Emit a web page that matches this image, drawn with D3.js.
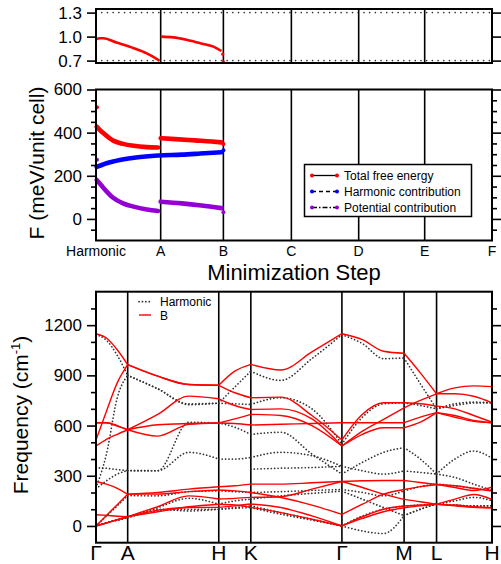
<!DOCTYPE html>
<html><head><meta charset="utf-8">
<script src="https://cdn.jsdelivr.net/npm/d3@7"></script>
<style>body{margin:0;background:#fff} text{font-family:"Liberation Sans",Arial,Helvetica,sans-serif;fill:#000}</style>
</head><body><svg id="c" width="501" height="564"></svg>
<script>
// ---------- DATA ----------
const steps = ["Harmonic","A","B","C","D","E","F"];
const stepPos = [0, 98, 193, 296, 398, 498, 600];      // iteration count of each step
const ratioSeg1 = [[0,0.967],[6,0.98],[11,0.98],[31,0.925],[57,0.855],[77,0.79],[96,0.70]];
const ratioSeg2 = [[98,1.0],[117,0.99],[137,0.96],[158,0.917],[178,0.875],[190,0.82]];
const ratioPts = [[192,0.78],[193,0.685]];
const topTicks = [0.7, 1.0, 1.3];

const totalSeg1 = [[1,428],[6,412],[11,398],[26,363],[41,348],[57,339],[77,333],[94,331]];
const totalSeg2 = [[98,374],[120,370],[150,364],[175,359],[190,355]];
const totalPts = [[0,518],[193,347]];
const harmSeg = [[1,241],[16,258],[36,273],[67,287],[94,294],[130,298],[158,303],[190,309]];
const harmPts = [[193,318]];
const potSeg1 = [[1,181],[6,163],[11,145],[26,98],[41,72],[57,57],[77,44],[94,37]];
const potSeg2 = [[98,80],[130,72],[160,62],[190,50]];
const potPts = [[0,274],[193,31]];
const midTicks = [0, 200, 400, 600];
const legendNames = ["Total free energy","Harmonic contribution","Potential contribution"];

const kLabels = ["Γ","A","H","K","Γ","M","L","H"];
const kNodeDist = [0, 0.080, 0.310, 0.391, 0.621, 0.778, 0.860, 1.0];
const kSamples = [0,.33,.67,1,1.33,1.67,2,2.5,3,3.33,3.67,4,4.33,4.67,5,5.5,6,6.33,6.67,7];
const bandsB = [
 [1149,1123,1053,964, 895,845,841, 925,966, 932,1040,1149, 1113,1044,1032, 915,790, 825,837,833],
 [514,686,855,964, 895,845,841, 796,766, 770,660,514, 667,736,736, 730,716, 700,660,620],
 [617,617,597,575, 537,607,615, 612,603, 608,612,617, 617,617,617, 650,677, 650,625,617],
 [478,518,548,575, 605,612,615, 640,667, 660,600,478, 567,637,706, 750,790, 790,775,736],
 [617,617,600,575, 667,776,760, 720,696, 700,640,478, 548,587,587, 620,677, 660,630,617],
 [266,250,225,190, 200,220,234, 240,250, 250,258,266, 270,272,272, 260,248, 230,212,232],
 [0,63,127,190, 190,205,215, 210,200, 170,125,69, 130,190,218, 235,248, 240,225,208],
 [67,63,58,55, 115,180,161, 165,171, 175,220,266, 230,190,159, 145,129, 160,188,159],
 [0,18,37,55, 95,110,111, 120,131, 110,60,0, 55,100,119, 125,129, 120,112,109],
 [0,18,37,55, 85,115,130, 125,111, 80,40,0, 45,85,109, 120,129, 125,115,109]
];
const bandsHarm = [
 [1143,1110,1020,900, 820,725,734, 830,925, 870,1000,1143, 1090,1000,1004, 850,700, 720,735,736],
 [230,430,766,900, 820,730,734, 730,726, 766,700,488, 650,730,736, 720,700, 730,740,736],
 [347,345,337,331, 330,620,615, 590,547, 560,430,310, 380,440,468, 400,310, 400,448,405],
 [222,270,310,331, 330,440,400, 400,409, 440,420,357, 330,310,329, 320,310, 290,250,214],
 [0,60,120,182, 180,205,210, 205,200, 205,212,218, 200,180,210, 235,250, 240,225,214],
 [0,20,35,50, 110,165,130, 150,160, 180,195,208, 160,110,62, 100,131, 150,171,151],
 [0,20,35,50, 100,90,100, 110,120, 80,40,0, -30,-45,62, 100,131, 125,120,121],
 [0,20,35,50, 90,100,100, 105,110, 70,35,0, 60,100,119, 125,131, 125,120,121],
 [null,null,null,null, null,null,null, null,339, 345,349,357, null,null,null, null,null, null,null,null]
];
const botTicks = [0, 300, 600, 900, 1200];

// ---------- LAYOUT ----------
const X0 = 96, X1 = 492;
const svg = d3.select("#c");
const FONT = '"Liberation Sans",Arial,Helvetica,sans-serif';

const xStep = d3.scaleLinear().domain([0, 600]).range([X0, X1]);
const yTop = d3.scaleLinear().domain([0.67, 1.345]).range([63, 9]);
const yMid = d3.scaleLinear().domain([-100, 600]).range([240.5, 89.5]);
const yBot = d3.scaleLinear().domain([-100, 1400]).range([542.7, 291.7]);
const xK = d3.scaleLinear().domain([0, 1]).range([X0, X1]);
const kToDist = k => { const i = Math.min(Math.floor(k), 6); const f = k - i; return kNodeDist[i] + f * (kNodeDist[i+1] - kNodeDist[i]); };

function yAxes(scale, majors, minors, fmt, fs) {
  const gL = svg.append("g").attr("transform", `translate(${X0},0)`)
    .call(d3.axisLeft(scale).tickValues(majors).tickSize(9).tickPadding(5).tickFormat(fmt));
  gL.selectAll("text").style("font-size", fs + "px").style("font-family", FONT);
  svg.append("g").attr("transform", `translate(${X0},0)`)
    .call(d3.axisLeft(scale).tickValues(minors).tickSize(5).tickFormat(""));
  svg.append("g").attr("transform", `translate(${X1},0)`)
    .call(d3.axisRight(scale).tickValues(majors).tickSize(9).tickFormat(""));
  svg.append("g").attr("transform", `translate(${X1},0)`)
    .call(d3.axisRight(scale).tickValues(minors).tickSize(5).tickFormat(""));
  svg.selectAll(".domain").remove();
  svg.selectAll(".tick line").attr("stroke", "#000").attr("stroke-width", 1.6);
}
function frame(y0, y1) {
  svg.append("rect").attr("x", X0).attr("y", y0).attr("width", X1 - X0).attr("height", y1 - y0)
    .attr("fill", "none").attr("stroke", "#000").attr("stroke-width", 2);
}

// ---------- TOP PANEL ----------
const topG = svg.append("g");
topTicks.filter(v => v !== 1.0).forEach(v => {
  topG.append("line").attr("x1", X0).attr("x2", X1).attr("y1", yTop(v)).attr("y2", yTop(v))
    .attr("stroke", "#333").attr("stroke-width", 1.6).attr("stroke-dasharray", "0.1,5.6").attr("stroke-linecap", "round");
});
stepPos.slice(1, 6).forEach(p => {
  topG.append("line").attr("x1", xStep(p)).attr("x2", xStep(p)).attr("y1", yTop.range()[0]).attr("y2", yTop.range()[1])
    .attr("stroke", "#000").attr("stroke-width", 1.6);
});
const lineTop = d3.line().x(d => xStep(d[0])).y(d => yTop(d[1])).curve(d3.curveMonotoneX);
[ratioSeg1, ratioSeg2].forEach(s => topG.append("path").attr("d", lineTop(s)).attr("fill", "none").attr("stroke", "#ff0000").attr("stroke-width", 2.6));
ratioPts.forEach(p => topG.append("circle").attr("cx", xStep(p[0])).attr("cy", yTop(p[1])).attr("r", 1.6).attr("fill", "#ff0000"));
yAxes(yTop, topTicks, [], d3.format(".1f"), 17);
frame(9, 63);

// ---------- MIDDLE PANEL ----------
const midG = svg.append("g");
stepPos.slice(1, 6).forEach(p => {
  midG.append("line").attr("x1", xStep(p)).attr("x2", xStep(p)).attr("y1", yMid.range()[0]).attr("y2", yMid.range()[1])
    .attr("stroke", "#000").attr("stroke-width", 1.6);
});
const lineMid = d3.line().x(d => xStep(d[0])).y(d => yMid(d[1])).curve(d3.curveMonotoneX);
const seriesCol = ["#ff0000", "#0000ff", "#9400d3"];
[[totalSeg1, 0], [totalSeg2, 0], [harmSeg, 1], [potSeg1, 2], [potSeg2, 2]].forEach(([s, c]) =>
  midG.append("path").attr("d", lineMid(s)).attr("fill", "none").attr("stroke", seriesCol[c]).attr("stroke-width", 4.6).attr("stroke-linecap", "round"));
[[totalPts, 0], [harmPts, 1], [potPts, 2]].forEach(([pts, c]) => pts.forEach(p =>
  midG.append("circle").attr("cx", xStep(p[0]) + (p[0] === 0 ? 1 : 0)).attr("cy", yMid(p[1])).attr("r", 2).attr("fill", seriesCol[c])));
const midMinor = d3.range(-50, 600, 50).filter(v => !midTicks.includes(v));
yAxes(yMid, midTicks, midMinor, d3.format("d"), 17);
frame(89.5, 240.5);
steps.forEach((s, i) => svg.append("text").attr("x", xStep(stepPos[i])).attr("y", 256).attr("text-anchor", "middle")
  .style("font-size", "14px").text(s));
svg.append("text").attr("x", 294).attr("y", 280).attr("text-anchor", "middle").style("font-size", "22px").text("Minimization Step");
svg.append("text").attr("transform", "translate(44,163) rotate(-90)").attr("text-anchor", "middle")
  .style("font-size", "21px").text("F (meV/unit cell)");
// legend
const lg = svg.append("g");
lg.append("rect").attr("x", 304.5).attr("y", 164.5).attr("width", 167).attr("height", 52)
  .attr("fill", "#fff").attr("stroke", "#000").attr("stroke-width", 1.5);
const dashes = [null, "4,3", "5,2,1.5,2"];
legendNames.forEach((n, i) => {
  const y = 175.5 + i * 16;
  lg.append("line").attr("x1", 312).attr("x2", 337).attr("y1", y).attr("y2", y).attr("stroke", "#000").attr("stroke-width", 1.3)
    .attr("stroke-dasharray", dashes[i]);
  [312, 337].forEach(x => lg.append("circle").attr("cx", x).attr("cy", y).attr("r", 2).attr("fill", seriesCol[i]));
  lg.append("text").attr("x", 344).attr("y", y + 4.3).style("font-size", "12px").text(n);
});

// ---------- BOTTOM PANEL ----------
const botG = svg.append("g");
kNodeDist.slice(1, 7).forEach(d => {
  botG.append("line").attr("x1", xK(d)).attr("x2", xK(d)).attr("y1", yBot.range()[0]).attr("y2", yBot.range()[1])
    .attr("stroke", "#000").attr("stroke-width", 1.6);
});
const lineK = d3.line().x(d => xK(kToDist(d[0]))).y(d => yBot(d[1])).curve(d3.curveMonotoneX);
function drawBands(bands, style) {
  bands.forEach(b => {
    for (let s = 0; s < 7; s++) {
      const pts = kSamples.map((k, i) => [k, b[i]]).filter(p => p[0] >= s - 1e-9 && p[0] <= s + 1 + 1e-9);
      if (pts.some(p => p[1] === null)) continue;
      const p = botG.append("path").attr("d", lineK(pts)).attr("fill", "none");
      style(p);
    }
  });
}
drawBands(bandsHarm, p => p.attr("stroke", "#333").attr("stroke-width", 1.7).attr("stroke-dasharray", "0.1,3.3").attr("stroke-linecap", "round"));
drawBands(bandsB, p => p.attr("stroke", "#ff0000").attr("stroke-width", 1.4));
const botMinor = d3.range(-100, 1401, 100).filter(v => !botTicks.includes(v) && v > -100 && v < 1400);
yAxes(yBot, botTicks, botMinor, d3.format("d"), 17);
frame(291.7, 542.7);
kLabels.forEach((l, i) => svg.append("text").attr("x", xK(kNodeDist[i])).attr("y", 560).attr("text-anchor", "middle")
  .style("font-size", "21px").text(l));
const yl = svg.append("text").attr("transform", "translate(28,415) rotate(-90)").attr("text-anchor", "middle").style("font-size", "21px");
yl.append("tspan").text("Frequency (cm");
yl.append("tspan").attr("dy", -8).style("font-size", "13px").text("-1");
yl.append("tspan").attr("dy", 8).text(")");
// bottom legend
botG.append("line").attr("x1", 139).attr("x2", 151).attr("y1", 301.7).attr("y2", 301.7).attr("stroke", "#333")
  .attr("stroke-width", 1.7).attr("stroke-dasharray", "0.1,3.3").attr("stroke-linecap", "round");
botG.append("text").attr("x", 160).attr("y", 306).style("font-size", "12px").text("Harmonic");
botG.append("line").attr("x1", 139).attr("x2", 151).attr("y1", 315).attr("y2", 315).attr("stroke", "#ff0000").attr("stroke-width", 1.4);
botG.append("text").attr("x", 160).attr("y", 319.5).style("font-size", "12px").text("B");
</script></body></html>
